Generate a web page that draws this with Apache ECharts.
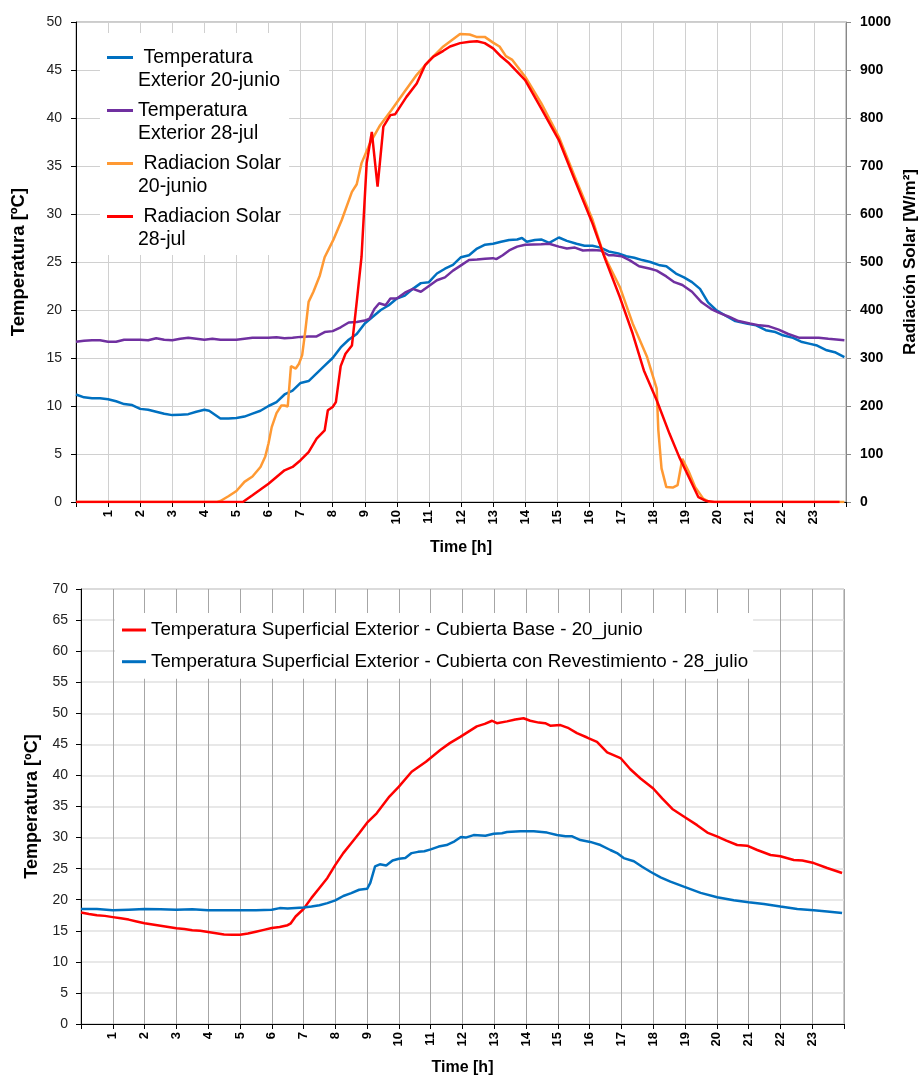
<!DOCTYPE html>
<html>
<head>
<meta charset="utf-8">
<script src="https://cdn.jsdelivr.net/npm/echarts@6/dist/echarts.min.js"></script>
<style>
  html, body { margin: 0; padding: 0; background: #fff; }
  #chart { width: 921px; height: 1077px; }
</style>
</head>
<body>
<div id="chart"></div>
<script>
// [hora, valor]
const tempExt20 = [[0,11.2],[0.25,10.9],[0.5,10.8],[0.75,10.8],[1,10.7],[1.25,10.5],[1.5,10.2],[1.75,10.1],[2,9.7],[2.25,9.6],[2.5,9.4],[2.75,9.2],[3,9.05],[3.25,9.1],[3.5,9.15],[3.75,9.4],[4,9.6],[4.15,9.5],[4.5,8.7],[4.75,8.7],[5,8.75],[5.25,8.9],[5.5,9.2],[5.75,9.5],[6,10.0],[6.25,10.4],[6.5,11.2],[6.75,11.6],[7,12.4],[7.25,12.6],[7.5,13.4],[7.75,14.2],[8,15.0],[8.25,16.1],[8.5,16.9],[8.75,17.5],[9,18.6],[9.25,19.3],[9.5,20.0],[9.75,20.5],[10,21.2],[10.25,21.5],[10.5,22.2],[10.75,22.8],[11,22.9],[11.25,23.8],[11.5,24.3],[11.75,24.7],[12,25.5],[12.25,25.7],[12.5,26.4],[12.75,26.8],[13,26.9],[13.25,27.1],[13.5,27.3],[13.75,27.35],[13.9,27.5],[14.05,27.1],[14.3,27.3],[14.5,27.35],[14.75,27.0],[15.05,27.55],[15.3,27.2],[15.6,26.9],[15.85,26.7],[16.1,26.7],[16.35,26.5],[16.6,26.1],[16.9,25.9],[17.15,25.6],[17.4,25.45],[17.65,25.2],[17.9,25.0],[18.2,24.65],[18.4,24.55],[18.7,23.8],[18.95,23.4],[19.2,22.9],[19.45,22.2],[19.7,20.8],[19.95,20.0],[20.25,19.4],[20.55,18.85],[20.9,18.6],[21.2,18.4],[21.5,17.9],[21.8,17.7],[22,17.4],[22.35,17.1],[22.6,16.7],[22.85,16.5],[23.1,16.3],[23.4,15.8],[23.65,15.6],[23.95,15.1]];

const tempExt28 = [[0,16.7],[0.25,16.8],[0.5,16.85],[0.75,16.85],[1,16.7],[1.25,16.7],[1.5,16.9],[1.75,16.9],[2,16.9],[2.25,16.85],[2.5,17.05],[2.75,16.9],[3,16.85],[3.25,17.0],[3.5,17.1],[3.75,17.0],[4,16.9],[4.25,17.0],[4.5,16.9],[4.75,16.9],[5,16.9],[5.25,17.0],[5.5,17.1],[5.75,17.1],[6,17.1],[6.25,17.15],[6.5,17.05],[6.75,17.1],[7,17.2],[7.25,17.25],[7.5,17.25],[7.75,17.7],[8,17.8],[8.25,18.2],[8.5,18.7],[8.75,18.75],[9,18.9],[9.15,19.1],[9.3,20.1],[9.45,20.7],[9.65,20.5],[9.8,21.2],[10,21.2],[10.25,21.8],[10.5,22.2],[10.75,21.9],[11,22.5],[11.25,23.1],[11.5,23.4],[11.75,24.1],[12,24.65],[12.25,25.2],[12.5,25.25],[12.75,25.35],[13,25.4],[13.1,25.3],[13.3,25.7],[13.5,26.2],[13.75,26.6],[14,26.8],[14.5,26.85],[14.75,26.9],[15.05,26.6],[15.3,26.4],[15.55,26.5],[15.8,26.2],[16.1,26.25],[16.35,26.2],[16.6,25.7],[16.75,25.7],[17,25.6],[17.25,25.2],[17.55,24.55],[17.9,24.3],[18.1,24.1],[18.4,23.5],[18.65,22.9],[18.9,22.6],[19.2,21.9],[19.5,20.8],[19.8,20.1],[20.05,19.7],[20.35,19.3],[20.65,18.85],[21,18.6],[21.3,18.4],[21.6,18.3],[21.9,17.95],[22.2,17.5],[22.55,17.1],[22.85,17.1],[23.15,17.1],[23.45,17.0],[23.95,16.85]];

const radSolar20 = [[0,0],[4.4,0],[4.5,2],[4.75,12],[5,23],[5.25,42],[5.5,53],[5.75,73],[5.9,95],[6,122],[6.1,156],[6.25,185],[6.4,201],[6.5,201],[6.6,199],[6.7,283],[6.85,278],[6.95,288],[7.05,306],[7.15,358],[7.25,417],[7.4,438],[7.6,472],[7.75,510],[8.02,546],[8.28,587],[8.6,646],[8.75,662],[8.9,706],[9.16,747],[9.48,785],[9.84,817],[10.2,851],[10.62,890],[11.03,921],[11.45,949],[11.97,975],[12.27,974],[12.48,969],[12.74,969],[13,957],[13.2,949],[13.4,929],[13.6,921],[14,886],[14.5,831],[15.05,761],[15.55,677],[16.1,588],[16.45,515],[16.95,448],[17.35,372],[17.8,302],[18.1,236],[18.15,150],[18.25,70],[18.4,31],[18.6,30],[18.75,35],[18.9,90],[19.1,63],[19.3,31],[19.55,7],[19.75,0],[23.95,0]];

const radSolar28 = [[0,0],[5.2,0],[5.25,2],[5.5,14],[5.75,26],[6,38],[6.25,52],[6.5,66],[6.75,73],[7,87],[7.25,104],[7.5,132],[7.75,149],[7.85,191],[8,198],[8.1,208],[8.25,283],[8.4,309],[8.6,326],[8.75,417],[8.9,511],[9.06,706],[9.22,771],[9.4,657],[9.58,782],[9.8,806],[9.95,808],[10.3,844],[10.62,872],[10.88,910],[11.14,928],[11.45,940],[11.66,949],[11.97,956],[12.27,959],[12.5,960],[12.74,956],[13,945],[13.25,928],[13.5,914],[14,879],[14.5,820],[15.05,754],[15.55,670],[16.1,580],[16.5,505],[16.95,427],[17.35,351],[17.7,274],[18.1,212],[18.5,142],[18.8,94],[19.1,52],[19.4,10],[19.65,2],[19.9,0],[23.8,0]];

const supBase20 = [[0,17.95],[0.25,17.7],[0.5,17.5],[0.75,17.4],[1,17.2],[1.25,17.0],[1.5,16.8],[1.75,16.5],[2,16.2],[2.25,16.0],[2.5,15.8],[2.75,15.6],[3,15.4],[3.25,15.3],[3.5,15.1],[3.75,15.0],[4,14.8],[4.25,14.6],[4.5,14.4],[4.75,14.35],[5,14.35],[5.25,14.55],[5.5,14.85],[5.75,15.15],[6,15.45],[6.25,15.6],[6.5,15.9],[6.6,16.2],[6.75,17.3],[7,18.5],[7.25,20.3],[7.5,21.9],[7.75,23.5],[8,25.6],[8.25,27.5],[8.5,29.1],[8.75,30.7],[9,32.4],[9.3,33.9],[9.7,36.6],[10,38.2],[10.4,40.6],[10.85,42.2],[11.3,44.1],[11.6,45.2],[11.93,46.2],[12.19,47.05],[12.45,47.9],[12.7,48.3],[12.93,48.8],[13.08,48.4],[13.4,48.7],[13.66,49.0],[13.92,49.2],[14.13,48.8],[14.4,48.5],[14.6,48.4],[14.76,48.0],[15.08,48.1],[15.34,47.6],[15.6,46.8],[15.92,46.1],[16.23,45.4],[16.55,43.7],[16.97,42.8],[17.28,41.0],[17.6,39.5],[18,37.9],[18.28,36.3],[18.6,34.6],[18.96,33.4],[19.38,32.0],[19.7,30.8],[20,30.2],[20.3,29.5],[20.64,28.8],[20.95,28.7],[21.27,28.0],[21.69,27.2],[22,27.0],[22.42,26.4],[22.69,26.3],[23.05,25.9],[23.47,25.1],[23.94,24.3]];

const supRev28 = [[0,18.5],[0.5,18.5],[1,18.3],[1.5,18.4],[2,18.5],[2.5,18.45],[3,18.4],[3.5,18.45],[4,18.3],[4.5,18.3],[5,18.3],[5.5,18.3],[6,18.4],[6.25,18.65],[6.5,18.6],[7,18.75],[7.25,18.9],[7.5,19.1],[7.75,19.45],[8,19.9],[8.25,20.6],[8.5,21.05],[8.75,21.6],[9,21.75],[9.1,22.7],[9.25,25.35],[9.4,25.7],[9.6,25.5],[9.8,26.3],[10,26.6],[10.2,26.7],[10.4,27.5],[10.6,27.7],[10.8,27.8],[11,28.1],[11.25,28.55],[11.5,28.8],[11.75,29.4],[11.95,30.1],[12.1,30.0],[12.35,30.4],[12.72,30.3],[12.98,30.6],[13.24,30.7],[13.4,30.9],[13.82,31.0],[14.24,31.0],[14.66,30.8],[14.97,30.4],[15.24,30.2],[15.45,30.2],[15.71,29.6],[16.02,29.3],[16.34,28.8],[16.65,28.0],[16.86,27.5],[17.07,26.7],[17.39,26.2],[17.65,25.3],[17.91,24.5],[18.23,23.6],[18.54,22.9],[18.96,22.1],[19.49,21.1],[20.01,20.4],[20.53,19.9],[21,19.6],[21.48,19.3],[22,18.9],[22.53,18.5],[23.05,18.3],[23.47,18.1],[23.94,17.85]];

// textos de leyenda: linea vacia delante para que el icono quede en la primera linea
const topLegendText = {
  'Temperatura Exterior 20-junio': '\n Temperatura\nExterior 20-junio',
  'Temperatura Exterior 28-jul': '\nTemperatura\nExterior 28-jul',
  'Radiacion Solar 20-junio': '\n Radiacion Solar\n20-junio',
  'Radiacion Solar 28-jul': '\n Radiacion Solar\n28-jul'
};

const FONT = '"Liberation Sans", Arial, sans-serif';

function hourAxis(gridIndex, gridColor) {
  return {
    type: 'value',
    gridIndex: gridIndex,
    min: 0,
    max: 24,
    interval: 1,
    name: 'Time [h]',
    nameLocation: 'middle',
    nameGap: gridIndex === 0 ? 38 : 36,
    nameTextStyle: { fontFamily: FONT, fontSize: 16, fontWeight: 'bold', color: '#000' },
    axisLine: { lineStyle: { color: '#000', width: 1 } },
    axisTick: { length: 5, lineStyle: { color: '#000' } },
    axisLabel: {
      rotate: 90,
      margin: 8,
      fontFamily: FONT,
      fontSize: 13,
      fontWeight: 'bold',
      color: '#000',
      formatter: v => (v === 0 || v === 24) ? '' : v
    },
    splitLine: { show: true, lineStyle: { color: gridColor, width: 1 } }
  };
}

function line(name, data, color, xi, yi) {
  return {
    name: name,
    type: 'line',
    xAxisIndex: xi,
    yAxisIndex: yi,
    data: data,
    showSymbol: false,
    symbol: 'none',
    lineStyle: { color: color, width: 2.5 },
    itemStyle: { color: color }
  };
}

const chart = echarts.init(document.getElementById('chart'));

chart.setOption({
  animation: false,
  backgroundColor: '#fff',
  textStyle: { fontFamily: FONT },
  grid: [
    { left: 76, top: 22, width: 770, height: 480, outerBoundsMode: 'none', containLabel: false,
      show: true, borderColor: '#999', borderWidth: 1, backgroundColor: 'transparent' },
    { left: 81, top: 589, width: 763, height: 435, outerBoundsMode: 'none', containLabel: false,
      show: true, borderColor: '#999', borderWidth: 1, backgroundColor: 'transparent' }
  ],
  legend: [
    {
      data: Object.keys(topLegendText),
      orient: 'vertical',
      left: 100,
      top: 33,
      padding: [-10, 8, 4, 7],
      itemGap: -16,
      itemWidth: 26,
      itemHeight: 3,
      icon: 'rect',
      backgroundColor: '#fff',
      formatter: name => topLegendText[name],
      textStyle: { fontFamily: FONT, fontSize: 19.5, lineHeight: 23, color: '#000' }
    },
    {
      data: ['Temperatura Superficial Exterior - Cubierta Base - 20_junio',
             'Temperatura Superficial Exterior - Cubierta con Revestimiento - 28_julio'],
      orient: 'vertical',
      left: 115,
      top: 613,
      padding: [6, 5, 6, 7],
      itemGap: 9.7,
      itemWidth: 24,
      itemHeight: 3,
      icon: 'rect',
      backgroundColor: '#fff',
      textStyle: { fontFamily: FONT, fontSize: 18.8, lineHeight: 22, color: '#000' }
    }
  ],
  xAxis: [hourAxis(0, '#d0d0d0'), hourAxis(1, '#a6a6a6')],
  yAxis: [
    {
      type: 'value',
      gridIndex: 0,
      min: 0,
      max: 50,
      interval: 5,
      name: 'Temperatura [ºC]',
      nameLocation: 'middle',
      nameGap: 48,
      nameTextStyle: { fontFamily: FONT, fontSize: 18.5, fontWeight: 'bold', color: '#000' },
      axisLine: { show: true, lineStyle: { color: '#000' } },
      axisTick: { show: true, length: 5, lineStyle: { color: '#000' } },
      axisLabel: { margin: 14, fontFamily: FONT, fontSize: 14, color: '#222' },
      splitLine: { lineStyle: { color: '#d0d0d0' } }
    },
    {
      type: 'value',
      gridIndex: 0,
      position: 'right',
      min: 0,
      max: 1000,
      interval: 100,
      name: 'Radiación Solar [W/m²]',
      nameLocation: 'middle',
      nameGap: 56,
      nameRotate: 90,
      nameTextStyle: { fontFamily: FONT, fontSize: 17, fontWeight: 'bold', color: '#000' },
      axisLine: { show: true, lineStyle: { color: '#888' } },
      axisTick: { show: true, length: 5, lineStyle: { color: '#888' } },
      axisLabel: { margin: 14, fontFamily: FONT, fontSize: 14, fontWeight: 'bold', color: '#000', formatter: v => String(v) },
      splitLine: { show: false }
    },
    {
      type: 'value',
      gridIndex: 1,
      min: 0,
      max: 70,
      interval: 5,
      name: 'Temperatura [ºC]',
      nameLocation: 'middle',
      nameGap: 38,
      nameTextStyle: { fontFamily: FONT, fontSize: 18, fontWeight: 'bold', color: '#000' },
      axisLine: { show: true, lineStyle: { color: '#000' } },
      axisTick: { show: true, length: 5, lineStyle: { color: '#000' } },
      axisLabel: { margin: 13, fontFamily: FONT, fontSize: 14, color: '#222' },
      splitLine: { lineStyle: { color: '#e0e0e0', width: 1.5 } }
    }
  ],
  series: [
    line('Temperatura Exterior 20-junio', tempExt20, '#0070C0', 0, 0),
    line('Temperatura Exterior 28-jul', tempExt28, '#7030A0', 0, 0),
    line('Radiacion Solar 20-junio', radSolar20, '#FF9933', 0, 1),
    line('Radiacion Solar 28-jul', radSolar28, '#FF0000', 0, 1),
    line('Temperatura Superficial Exterior - Cubierta Base - 20_junio', supBase20, '#FF0000', 1, 2),
    line('Temperatura Superficial Exterior - Cubierta con Revestimiento - 28_julio', supRev28, '#0070C0', 1, 2)
  ]
});
</script>
</body>
</html>
